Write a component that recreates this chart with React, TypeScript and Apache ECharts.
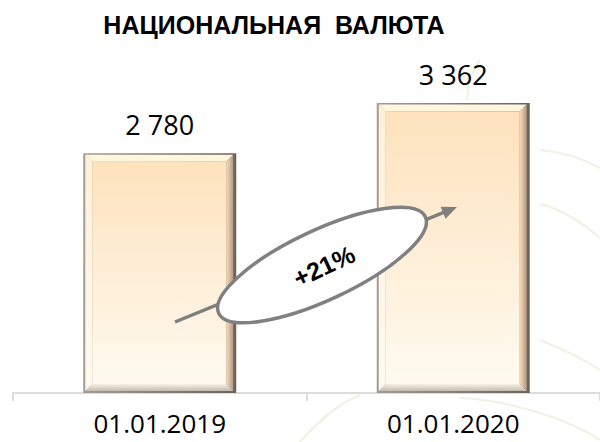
import React, { useEffect, useRef } from "react";
import * as echarts from "echarts";

const categories = ["01.01.2019", "01.01.2020"];
const values = [2780, 3362];
const growthLabel = "+21%";
const titleText = "НАЦИОНАЛЬНАЯ  ВАЛЮТА";

const fmt = (v: number) => String(v).replace(/\B(?=(\d{3})+(?!\d))/g, " ");

const LG = (x0: number, y0: number, x1: number, y1: number, a: string, b: string) =>
  new echarts.graphic.LinearGradient(x0, y0, x1, y1, [
    { offset: 0, color: a },
    { offset: 1, color: b },
  ]);

export default function App() {
  const ref = useRef<HTMLDivElement>(null);
  useEffect(() => {
    if (!ref.current) return;
    const chart = echarts.init(ref.current, undefined, { renderer: "svg" });
    const BW = 153;
    const bv = 7;
    const renderItem = (params: any, api: any) => {
      const idx = api.value(0);
      const v = api.value(1);
      const top = api.coord([idx, v]);
      const base = api.coord([idx, 0]);
      const x0 = top[0] - BW / 2;
      const y0 = top[1];
      const h = base[1] - top[1];
      const L = x0 + 2;
      const R = x0 + BW - 3;
      const T = y0 + 1.5;
      const B = y0 + h - 2;
      return {
        type: "group",
        children: [
          { type: "rect", shape: { x: x0, y: y0, width: BW, height: h }, style: { fill: LG(0, 0, 1, 0, "#a69b92", "#6c635b") } },
          { type: "polygon", shape: { points: [[L, T], [R, T], [R - bv, T + bv], [L + bv, T + bv]] }, style: { fill: "#fff6e0" } },
          { type: "polygon", shape: { points: [[L, T], [L + bv, T + bv], [L + bv, B - bv], [L, B]] }, style: { fill: LG(0, 0, 0, 1, "#fff1d8", "#fffaf0") } },
          { type: "polygon", shape: { points: [[R, T], [R, B], [R - bv, B - bv], [R - bv, T + bv]] }, style: { fill: LG(0, 0, 1, 0, "#fcdcb4", "#b09a88") } },
          { type: "polygon", shape: { points: [[L, B], [R, B], [R - bv, B - bv], [L + bv, B - bv]] }, style: { fill: LG(0, 0, 0, 1, "#f8f1e6", "#c4bab0") } },
          { type: "rect", shape: { x: L + bv, y: T + bv, width: R - L - 2 * bv, height: B - T - 2 * bv }, style: { fill: LG(0, 0, 0, 1, "#fde2bd", "#fffaf0") } },
          {
            type: "text",
            style: {
              text: fmt(v),
              x: top[0],
              y: y0 - 29,
              textAlign: "center",
              textVerticalAlign: "middle",
              fontFamily: "Open Sans",
              fontSize: 27,
              fill: "#000000",
            },
          },
        ],
      };
    };

    const tipX = 457, tipY = 207, sx = 175, sy = 322;
    const dx = tipX - sx, dy = tipY - sy;
    const len = Math.sqrt(dx * dx + dy * dy);
    const ux = dx / len, uy = dy / len;
    const hl = 15, hw = 6.5;
    const bx = tipX - ux * hl, by = tipY - uy * hl;
    const px = -uy, py = ux;

    const faint = "#f1f0e4";
    chart.setOption({
      animation: false,
      backgroundColor: "#ffffff",
      grid: { left: 13, width: 600, top: 48, bottom: 49, containLabel: false },
      xAxis: {
        type: "category",
        data: categories,
        axisLine: { lineStyle: { color: "#dcdcdc", width: 2 } },
        axisTick: { show: true, length: 8, lineStyle: { color: "#dcdcdc", width: 2 } },
        axisLabel: { margin: 17, fontFamily: "Open Sans", fontSize: 26, color: "#000000" },
        z: 1,
      },
      yAxis: { type: "value", min: 0, max: 4000, show: false, splitLine: { show: false } },
      series: [
        {
          type: "custom",
          renderItem,
          data: values.map((v, i) => [i, v]),
          z: 3,
        },
      ],
      graphic: [
        { type: "bezierCurve", z: -5, shape: { x1: 540, y1: 150, x2: 600, y2: 168, cpx1: 565, cpy1: 152, cpx2: 585, cpy2: 160 }, style: { stroke: faint, lineWidth: 2, fill: "none" } },
        { type: "bezierCurve", z: -5, shape: { x1: 540, y1: 204, x2: 600, y2: 238, cpx1: 565, cpy1: 210, cpx2: 585, cpy2: 225 }, style: { stroke: faint, lineWidth: 2, fill: "none" } },
        { type: "bezierCurve", z: -5, shape: { x1: 540, y1: 340, x2: 600, y2: 370, cpx1: 560, cpy1: 348, cpx2: 585, cpy2: 360 }, style: { stroke: faint, lineWidth: 2, fill: "none" } },
        { type: "bezierCurve", z: -5, shape: { x1: 460, y1: 398, x2: 600, y2: 440, cpx1: 510, cpy1: 400, cpx2: 570, cpy2: 420 }, style: { stroke: faint, lineWidth: 2, fill: "none" } },
        { type: "bezierCurve", z: -5, shape: { x1: 467, y1: 100, x2: 480, y2: 60, cpx1: 468, cpy1: 85, cpx2: 472, cpy2: 70 }, style: { stroke: faint, lineWidth: 2, fill: "none" } },
        { type: "bezierCurve", z: -5, shape: { x1: 300, y1: 442, x2: 360, y2: 395, cpx1: 315, cpy1: 425, cpx2: 335, cpy2: 405 }, style: { stroke: faint, lineWidth: 2, fill: "none" } },
        {
          type: "text",
          z: 100,
          style: {
            text: titleText,
            x: 274,
            y: 25,
            textAlign: "center",
            textVerticalAlign: "middle",
            fontFamily: "Liberation Sans",
            fontWeight: "bold",
            fontSize: 25,
            fill: "#000000",
          },
        },
        {
          type: "line",
          z: 100,
          shape: { x1: sx, y1: sy, x2: bx + ux * 2, y2: by + uy * 2 },
          style: { stroke: "#7f7f7f", lineWidth: 3.5 },
        },
        {
          type: "polygon",
          z: 100,
          shape: { points: [[tipX, tipY], [bx + px * hw, by + py * hw], [bx - px * hw, by - py * hw]] },
          style: { fill: "#7f7f7f" },
        },
        {
          type: "ellipse",
          z: 101,
          x: 322,
          y: 265,
          rotation: (25 * Math.PI) / 180,
          shape: { cx: 0, cy: 0, rx: 114, ry: 35 },
          style: { fill: "#ffffff", stroke: "#808080", lineWidth: 3.5 },
        },
        {
          type: "text",
          z: 102,
          x: 324,
          y: 266,
          rotation: (25 * Math.PI) / 180,
          style: {
            text: growthLabel,
            x: 0,
            y: 0,
            textAlign: "center",
            textVerticalAlign: "middle",
            fontFamily: "Liberation Sans",
            fontWeight: "bold",
            fontSize: 25,
            fill: "#000000",
          },
        },
      ],
    });
    return () => chart.dispose();
  }, []);
  return <div ref={ref} style={{ position: "absolute", left: 0, top: 0, width: 600, height: 442 }} />;
}
